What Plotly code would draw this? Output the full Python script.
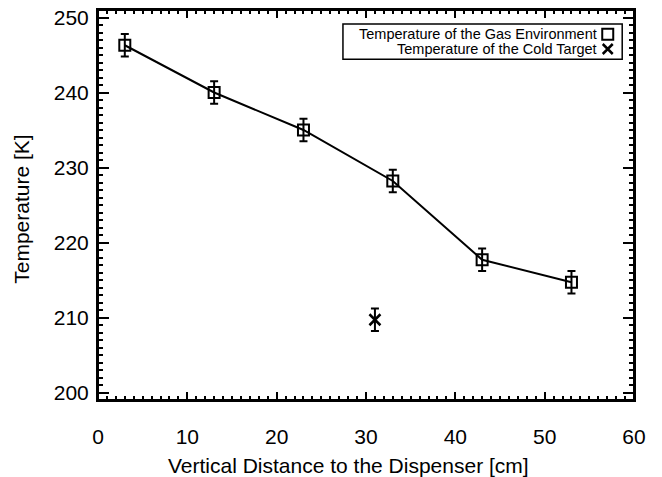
import plotly.graph_objects as go

# ---- data ----
gas_x = [3, 13, 23, 33, 43, 53]
gas_T = [246.3, 240.0, 235.0, 228.2, 217.7, 214.7]
gas_err = [1.5, 1.5, 1.5, 1.5, 1.5, 1.5]

target_x = [31]
target_T = [209.7]
target_err = [1.5]

legend_labels = ["Temperature of the Gas Environment", "Temperature of the Cold Target"]

x_title = "Vertical Distance to the Dispenser [cm]"
y_title = "Temperature [K]"

FONT = "Liberation Sans, Arial, Helvetica, sans-serif"

fig = go.Figure()

fig.add_trace(go.Scatter(
    x=gas_x, y=gas_T, mode="lines+markers",
    line=dict(color="black", width=2),
    marker=dict(symbol="square-open", size=11, color="black", line=dict(width=2)),
    error_y=dict(type="data", array=gas_err, color="black", thickness=2, width=4),
    showlegend=False,
))
fig.add_trace(go.Scatter(
    x=target_x, y=target_T, mode="markers",
    marker=dict(symbol="x-thin-open", size=11, color="black", line=dict(width=2.5)),
    error_y=dict(type="data", array=target_err, color="black", thickness=2, width=4),
    showlegend=False,
))

# custom legend (markers on the right of right-aligned text, like IDL)
lx_marker = 0.951
ly = [0.938, 0.900]
fig.add_trace(go.Scatter(
    x=[lx_marker], y=[ly[0]], xaxis="x2", yaxis="y2", mode="markers",
    marker=dict(symbol="square-open", size=11, color="black", line=dict(width=2)),
    showlegend=False, hoverinfo="skip",
))
fig.add_trace(go.Scatter(
    x=[lx_marker], y=[ly[1]], xaxis="x2", yaxis="y2", mode="markers",
    marker=dict(symbol="x-thin-open", size=10, color="black", line=dict(width=2.5)),
    showlegend=False, hoverinfo="skip",
))
for lab, yy in zip(legend_labels, ly):
    fig.add_annotation(
        x=0.935, y=yy, xref="paper", yref="paper", text=lab, showarrow=False,
        xanchor="right", yanchor="middle", font=dict(family=FONT, size=14.5, color="black"),
    )
fig.add_shape(type="rect", xref="paper", yref="paper",
              x0=0.457, x1=0.978, y0=0.874, y1=0.964,
              line=dict(color="black", width=1.5), fillcolor="rgba(0,0,0,0)")
# plot frame
fig.add_shape(type="rect", xref="paper", yref="paper", x0=0, x1=1, y0=0, y1=1,
              line=dict(color="black", width=2), fillcolor="rgba(0,0,0,0)", layer="above")

# axis titles as annotations for exact placement
fig.add_annotation(x=0.468, y=-0.169, xref="paper", yref="paper", text=x_title,
                   showarrow=False, xanchor="center", yanchor="middle",
                   font=dict(family=FONT, size=21, color="black"))
fig.add_annotation(x=-0.142, y=0.49, xref="paper", yref="paper", text=y_title,
                   showarrow=False, xanchor="center", yanchor="middle", textangle=-90,
                   font=dict(family=FONT, size=21, color="black"))

axis_common = dict(
    showgrid=False, zeroline=False, showline=True, linecolor="black", linewidth=2,
    mirror="ticks", ticks="inside", tickcolor="black", tickwidth=2, automargin=False,
    ticklabeloverflow="allow",
    tickfont=dict(family=FONT, size=21, color="black"),
)

fig.update_layout(
    width=662, height=477,
    margin=dict(l=98, r=28, t=10, b=77),
    paper_bgcolor="white", plot_bgcolor="white",
    font=dict(family=FONT, color="black"),
    hovermode=False,
    xaxis=dict(
        range=[0, 60], dtick=10, tick0=0, ticklen=8,
        minor=dict(dtick=1, ticks="inside", ticklen=4, tickcolor="black", tickwidth=1.5, showgrid=False),
        ticklabelstandoff=17,
        **axis_common,
    ),
    yaxis=dict(
        range=[199, 251], dtick=10, tick0=200, ticklen=11,
        minor=dict(dtick=1, ticks="inside", ticklen=5, tickcolor="black", tickwidth=1.5, showgrid=False),
        ticklabelstandoff=3,
        **axis_common,
    ),
    xaxis2=dict(overlaying="x", range=[0, 1], visible=False, fixedrange=True),
    yaxis2=dict(overlaying="y", range=[0, 1], visible=False, fixedrange=True),
)

# remove the default 8px page margin so the figure sits at the window's top-left corner
fig.write_html("out.html", config={"displayModeBar": False},
               post_script="document.body.style.margin='0';")
